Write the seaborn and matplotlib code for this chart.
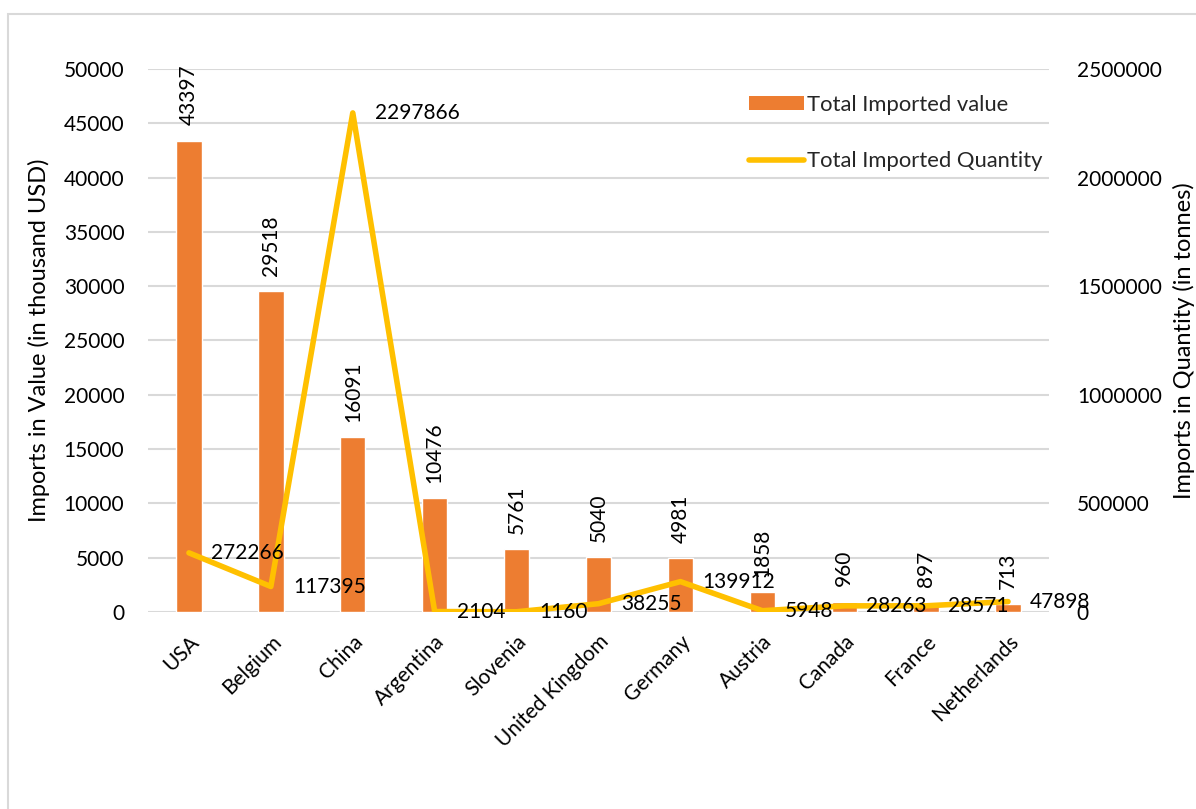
import matplotlib
matplotlib.use("Agg")
import matplotlib.pyplot as plt
import seaborn as sns
import pandas as pd
from matplotlib.patches import Rectangle, Patch
from matplotlib.lines import Line2D

countries = ["USA", "Belgium", "China", "Argentina", "Slovenia", "United Kingdom",
             "Germany", "Austria", "Canada", "France", "Netherlands"]
imported_value = [43397, 29518, 16091, 10476, 5761, 5040, 4981, 1858, 960, 897, 713]
imported_quantity = [272266, 117395, 2297866, 2104, 1160, 38255, 139912, 5948, 28263, 28571, 47898]

left_ticks = list(range(0, 50001, 5000))
right_ticks = list(range(0, 2500001, 500000))

BAR_COLOR = "#ED7D31"
LINE_COLOR = "#FFC000"
GRID_COLOR = "#D9D9D9"
TXT = "#000000"

sns.set_theme(style="white")
plt.rcParams["font.family"] = ["Lato", "DejaVu Sans"]
FS = 15

df = pd.DataFrame({"Country": countries, "Value": imported_value, "Quantity": imported_quantity})

fig = plt.figure(figsize=(11.96, 8.09), dpi=100)
fig.patch.set_facecolor("white")
fig.patches.append(Rectangle((8 / 1196, -0.1), 1.2, 1 - 14 / 809 + 0.1, transform=fig.transFigure,
                             fill=False, edgecolor=GRID_COLOR, linewidth=1.5, zorder=0))

ax = fig.add_axes([148 / 1196, 1 - 612 / 809, (1049 - 148) / 1196, (612 - 69) / 809])
sns.barplot(data=df, x="Country", y="Value", color=BAR_COLOR, width=0.31, ax=ax,
            saturation=1, errorbar=None)
ax.set_ylim(0, 50000)
ax.set_xlim(-0.5, len(countries) - 0.5)
ax.set_yticks(left_ticks)
ax.set_yticklabels([str(t) for t in left_ticks])
ax.yaxis.grid(True, color=GRID_COLOR, linewidth=1.5)
ax.xaxis.grid(False)
ax.set_axisbelow(True)
for s in ax.spines.values():
    s.set_visible(False)
ax.tick_params(axis="y", length=0, pad=17, labelsize=FS, labelcolor=TXT)
ax.tick_params(axis="x", length=0, pad=14, labelsize=FS, labelcolor=TXT)
ax.set_xticks(range(len(countries)))
ax.set_xticklabels(countries, rotation=45, ha="right", rotation_mode="anchor")
ax.set_xlabel("")
ax.set_ylabel("Imports in Value (in thousand USD)", fontsize=17, color=TXT, labelpad=10)
for c in ax.containers:
    ax.bar_label(c, labels=[str(v) for v in imported_value], rotation=90, padding=11,
                 fontsize=FS, color=TXT)

ax2 = ax.twinx()
sns.lineplot(x=list(range(len(countries))), y=imported_quantity, color=LINE_COLOR,
             linewidth=4, ax=ax2, sort=False)
ax2.set_ylim(0, 2500000)
ax2.set_yticks(right_ticks)
ax2.set_yticklabels([str(t) for t in right_ticks])
ax2.set_xlim(-0.5, len(countries) - 0.5)
for s in ax2.spines.values():
    s.set_visible(False)
ax2.grid(False)
ax2.tick_params(axis="y", length=0, pad=20, labelsize=FS, labelcolor=TXT)
ax2.set_ylabel("Imports in Quantity (in tonnes)", fontsize=17, color=TXT, labelpad=8)
for i, q in enumerate(imported_quantity):
    ax2.annotate(str(q), (i, q), xytext=(16, 0), textcoords="offset points",
                 ha="left", va="center", fontsize=FS, color=TXT)

handles = [Patch(facecolor=BAR_COLOR, edgecolor="none"),
           Line2D([0], [0], color=LINE_COLOR, linewidth=4)]
fig.legend(handles, ["Total Imported value", "Total Imported Quantity"],
           loc="upper left", bbox_to_anchor=(740 / 1196, 1 - 86 / 809), frameon=False,
           fontsize=15.8, handlelength=2.5, handleheight=0.6, handletextpad=0.15,
           labelspacing=1.65, borderaxespad=0)

fig.savefig("out.png", dpi=100, facecolor="white")
